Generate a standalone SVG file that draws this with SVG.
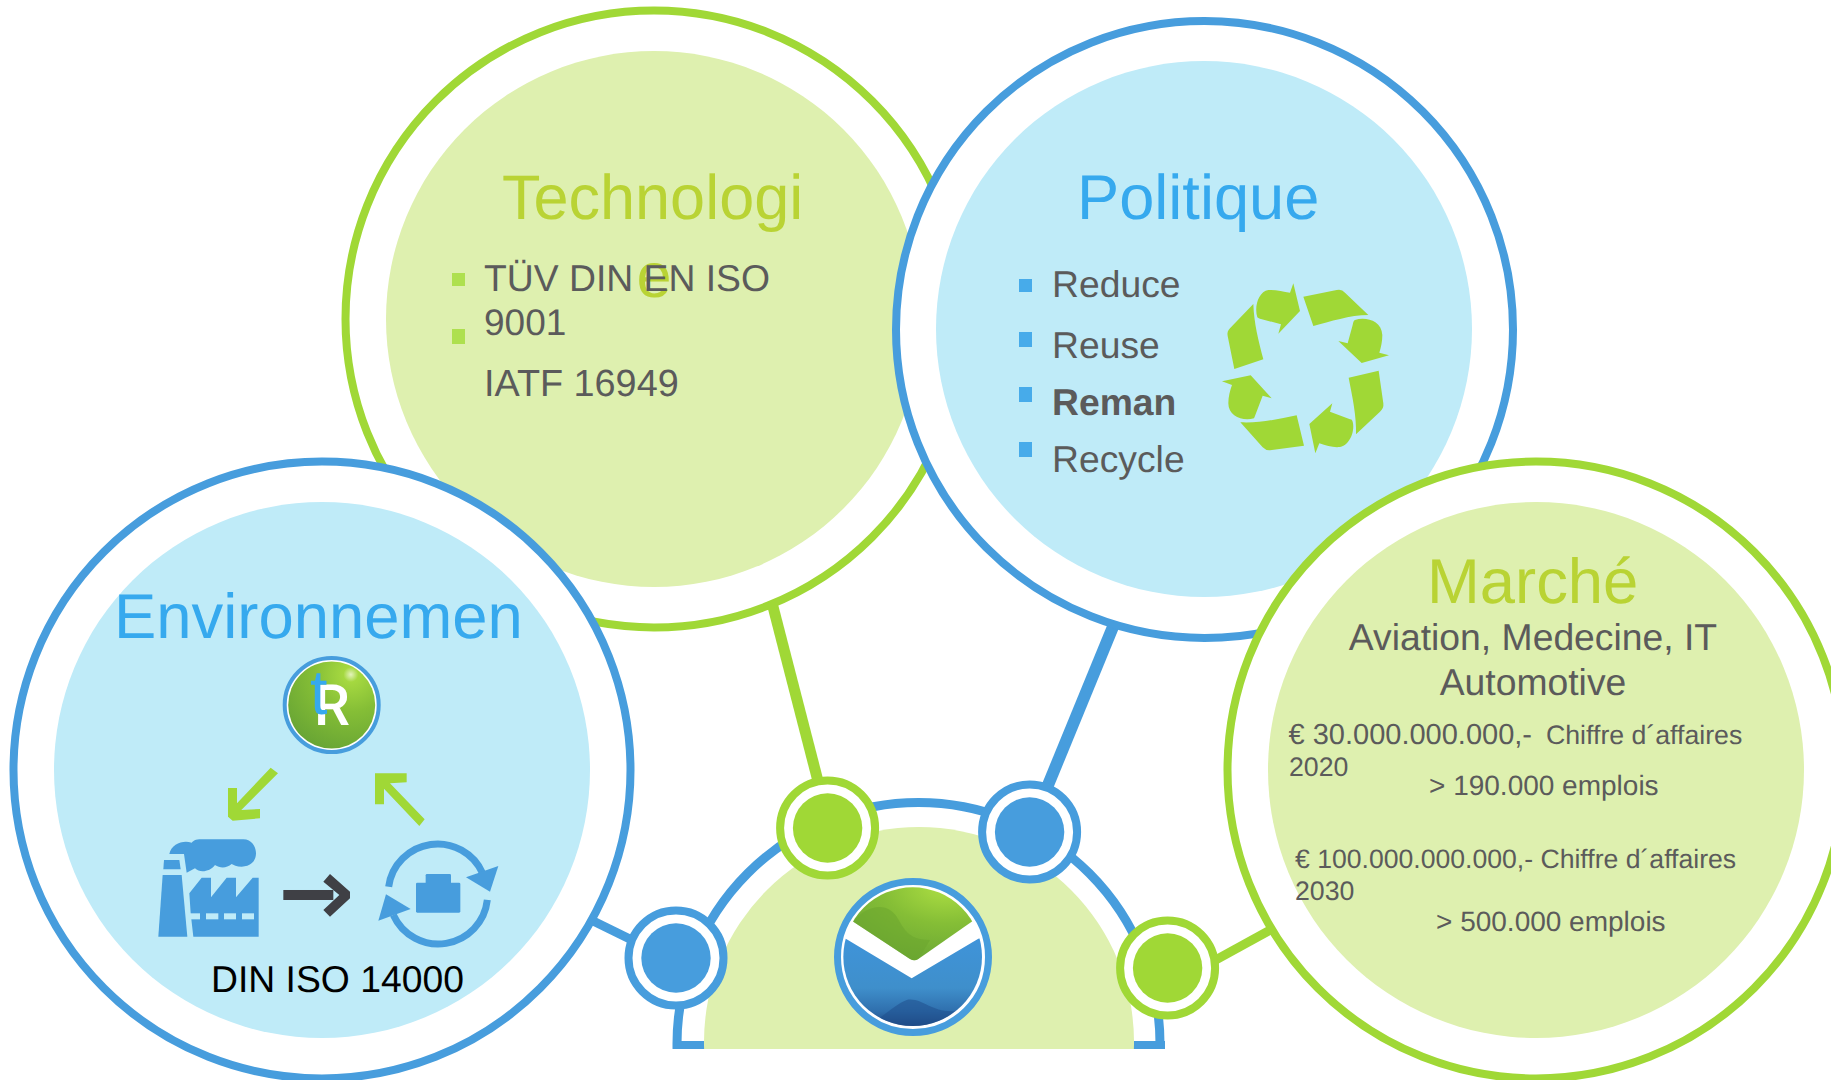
<svg xmlns="http://www.w3.org/2000/svg" width="1831" height="1080" viewBox="0 0 1831 1080">
<style>
text{font-family:"Liberation Sans",Arial,sans-serif;text-rendering:geometricPrecision}
.ring{fill:#fff;stroke-width:8}
.blue{stroke:#479DDD}.green{stroke:#A0D836}
.fb{fill:#479DDD}.fg{fill:#A0D836}
.inB{fill:#BFEBF8}.inG{fill:#DEF0AF}
.tB{font-size:63px;fill:#36A9EE}
.tG{font-size:63px;fill:#B9D334}
.body{font-size:37.3px;fill:#5B5B5B}
.small{font-size:26.7px;fill:#5B5B5B}
.jobs{font-size:28px;fill:#5B5B5B}
.bulG{fill:#AEE04F}.bulB{fill:#47ABEA}
.dot{fill:#fff;stroke-width:8}
</style>
<defs>
<radialGradient id="gGreen" cx="0.72" cy="0.15" r="0.95">
<stop offset="0" stop-color="#E4F3BC"/><stop offset="0.09" stop-color="#A5D840"/><stop offset="0.45" stop-color="#85BE36"/><stop offset="1" stop-color="#66A334"/>
</radialGradient>
<linearGradient id="gBlue" x1="0" y1="0" x2="0" y2="1">
<stop offset="0" stop-color="#3F94DA"/><stop offset="0.55" stop-color="#3F8FCB"/><stop offset="0.8" stop-color="#2F6FAD"/><stop offset="1" stop-color="#1D3F77"/>
</linearGradient>
<clipPath id="clipBottom"><rect x="0" y="0" width="1831" height="1049"/></clipPath>
<clipPath id="logoClip"><circle cx="278" cy="290" r="208"/></clipPath>
</defs>

<g id="connectors" fill="none">
<line x1="770" y1="595" x2="819" y2="785" stroke="#A0D836" stroke-width="11"/>
<line x1="1117" y1="617" x2="1046" y2="790" stroke="#479DDD" stroke-width="12"/>
<line x1="585" y1="917" x2="640" y2="944" stroke="#479DDD" stroke-width="9"/>
<line x1="1212" y1="962" x2="1272" y2="929" stroke="#A0D836" stroke-width="9"/>
</g>

<g id="hub">
<g clip-path="url(#clipBottom)">
<circle cx="918.5" cy="1044" r="241.5" fill="#fff" stroke="#479DDD" stroke-width="9"/>
<rect x="673" y="1041" width="35" height="8" fill="#479DDD"/>
<rect x="1130" y="1041" width="35" height="8" fill="#479DDD"/>
<circle cx="919" cy="1042" r="215" class="inG"/>
</g>
</g>

<g id="node-technologie">
<circle cx="654" cy="319" r="308.5" class="ring green"/>
<circle cx="654" cy="319" r="268" class="inG"/>
<text x="502" y="219" class="tG">Technologi</text>
<text x="654" y="297" class="tG" text-anchor="middle">e</text>
<rect x="452" y="273" width="13" height="13" class="bulG"/>
<rect x="452" y="329" width="13" height="15" class="bulG"/>
<text x="484" y="291" class="body">TÜV DIN EN ISO</text>
<text x="484" y="335" class="body" style="font-size:37px">9001</text>
<text x="484" y="396" class="body" style="font-size:37.8px">IATF 16949</text>
</g>

<g id="node-politique">
<circle cx="1204.5" cy="329.5" r="308.5" class="ring blue"/>
<circle cx="1204" cy="329" r="268" class="inB"/>
<text x="1077" y="219" class="tB" style="font-size:63.2px">Politique</text>
<rect x="1019" y="279" width="13" height="13" class="bulB"/>
<rect x="1019" y="332" width="13" height="15" class="bulB"/>
<rect x="1019" y="387" width="13" height="15" class="bulB"/>
<rect x="1019" y="442" width="13" height="15" class="bulB"/>
<text x="1052" y="297" class="body">Reduce</text>
<text x="1052" y="358" class="body">Reuse</text>
<text x="1052" y="415" class="body" font-weight="700">Reman</text>
<text x="1052" y="472" class="body">Recycle</text>
<g id="recycle" transform="translate(1180 260) scale(.33333)" class="fg">
<path d="M370 110L470 90Q485 86 495 98L565 165C510 165 450 185 400 198Z"/>
<path d="M525 180C555 170 605 180 607 225C607 245 603 262 598 278L627 286L545 309L475 243L503 250L518 195Q520 182 525 180Z"/>
<path d="M506 353L596 332L610 430Q612 445 600 455L528 523C530 470 517 410 506 353Z"/>
<path d="M517 482C527 510 510 555 480 561C460 563 440 558 418 550L406 580L388 492L457 430L450 455L510 478Q515 478 517 482Z"/>
<path d="M350 466L372 557L270 571Q258 572 248 562L181 487C240 490 295 477 350 466Z"/>
<path d="M222 475C190 485 145 470 145 430C145 410 150 392 156 375L126 364L212 346L275 415L248 407L224 470Z"/>
<path d="M163 327L250 298C235 240 222 190 220 132L150 205Q140 215 143 228Z"/>
<path d="M232 172C222 140 235 95 265 90C285 88 310 95 330 98L340 70L360 153L295 221L303 193L240 176Q234 175 232 172Z"/>
</g>
</g>

<g id="node-environnement">
<circle cx="322" cy="770" r="308.5" class="ring blue"/>
<circle cx="322" cy="770" r="268" class="inB"/>
<text x="114" y="638" class="tB" style="font-size:63.4px">Environnemen</text>
<g id="badge">
<circle cx="331.7" cy="705" r="47" fill="#fff" stroke="#479DDD" stroke-width="4"/>
<circle cx="331.7" cy="705" r="43.5" fill="url(#gGreen)"/>
<text x="314" y="725" font-size="57" font-weight="500" fill="#fff" style="font-family:Roboto,sans-serif">R</text>
</g>
<text x="310" y="714" class="tB">t</text>
<g id="env-icons" transform="translate(100 560) scale(.33333)">
<path class="fg" d="M512 623L534 640L424 750L480 747V775L398 782L384 770V684H411V730Z"/>
<path class="fg" d="M825 640H920V667L870 670L974 778L958 798L852 686V733H825Z"/>
<g class="fb">
<path d="M192 900H238L242 928H190Z"/>
<path d="M188 945H245L262 1130H175Z"/>
<path d="M208 882C215 850 250 840 275 848C285 835 300 838 345 838H430C455 838 468 860 468 880C468 905 450 920 425 920C410 920 400 915 395 912C380 925 360 925 345 915C330 935 300 940 285 925L260 938L252 882Z"/>
<path d="M268 1000L305 953H333V1012L380 953H408V1012L458 953H476V1130H280L272 1060Z"/>
</g>
<g class="inB">
<rect x="270" y="1060" width="30" height="18"/>
<rect x="318" y="1060" width="37" height="18"/>
<rect x="372" y="1060" width="36" height="18"/>
<rect x="426" y="1060" width="36" height="18"/>
</g>
<rect x="550" y="990" width="150" height="30" fill="#3F4045"/>
<path d="M670 965L690 942L750 995V1015L690 1070L670 1050L718 1005Z" fill="#3F4045"/>
<g fill="none" stroke="#479DDD" stroke-width="21">
<path d="M866 980A148 148 0 0 1 1148 940"/>
<path d="M1162 1020A148 148 0 0 1 880 1065"/>
</g>
<path class="fb" d="M1098 952L1195 918L1170 995Z"/>
<path class="fb" d="M835 1082L858 1003L932 1047Z"/>
<rect class="fb" x="948" y="968" width="133" height="90" rx="4"/>
<rect class="fb" x="977" y="942" width="76" height="30" rx="4"/>
</g>
<text x="211" y="991.5" font-size="37.3" fill="#000">DIN ISO 14000</text>
</g>

<g id="node-marche">
<circle cx="1536" cy="770" r="308.5" class="ring green"/>
<circle cx="1536" cy="770" r="268" class="inG"/>
<text x="1427" y="603" class="tG" style="font-size:63.4px">Marché</text>
<text x="1533" y="650" class="body" text-anchor="middle">Aviation, Medecine, IT</text>
<text x="1533" y="695" class="body" text-anchor="middle">Automotive</text>
<text x="1288.5" y="743.5" class="jobs" style="font-size:29px">€ 30.000.000.000,-</text>
<text x="1546" y="743.5" class="small">Chiffre d´affaires</text>
<text x="1289" y="776" class="small">2020</text>
<text x="1429" y="794.5" class="jobs">&gt; 190.000 emplois</text>
<text x="1295" y="868" class="small" style="font-size:26.6px">€ 100.000.000.000,- Chiffre d´affaires</text>
<text x="1295" y="899.5" class="small">2030</text>
<text x="1436" y="931" class="jobs">&gt; 500.000 emplois</text>
</g>

<g id="dot-green-1"><circle cx="827.6" cy="828" r="47.5" class="dot green"/><circle cx="827.6" cy="828" r="34.7" class="fg"/></g>
<g id="dot-blue-1"><circle cx="1029.6" cy="832" r="47.5" class="dot blue"/><circle cx="1029.6" cy="832" r="34.7" class="fb"/></g>
<g id="dot-blue-2"><circle cx="676" cy="958" r="47.5" class="dot blue"/><circle cx="676" cy="958" r="34.7" class="fb"/></g>
<g id="dot-green-2"><circle cx="1167.6" cy="968" r="47.5" class="dot green"/><circle cx="1167.6" cy="968" r="34.7" class="fg"/></g>

<g id="logo">
<circle cx="913" cy="957" r="75.5" fill="#fff" stroke="#479DDD" stroke-width="7"/>
<g transform="translate(820 860) scale(.33333)" clip-path="url(#logoClip)">
<path d="M60 40H500V150L455 185L295 297Q283 304 270 297L100 185L60 150Z" fill="url(#gGreen)"/>
<path d="M100 185C130 145 180 130 210 150C250 175 240 240 330 240L295 297Q283 304 270 297Z" fill="#6CA52E" opacity=".55"/>
<path d="M60 230L80 238L275 355L475 236L500 230V510H60Z" fill="url(#gBlue)"/>
<path d="M140 500C190 470 230 430 260 420C310 410 340 470 430 450L380 480L280 510Z" fill="#1F4E8C" opacity=".55"/>
</g>
</g>
</svg>
